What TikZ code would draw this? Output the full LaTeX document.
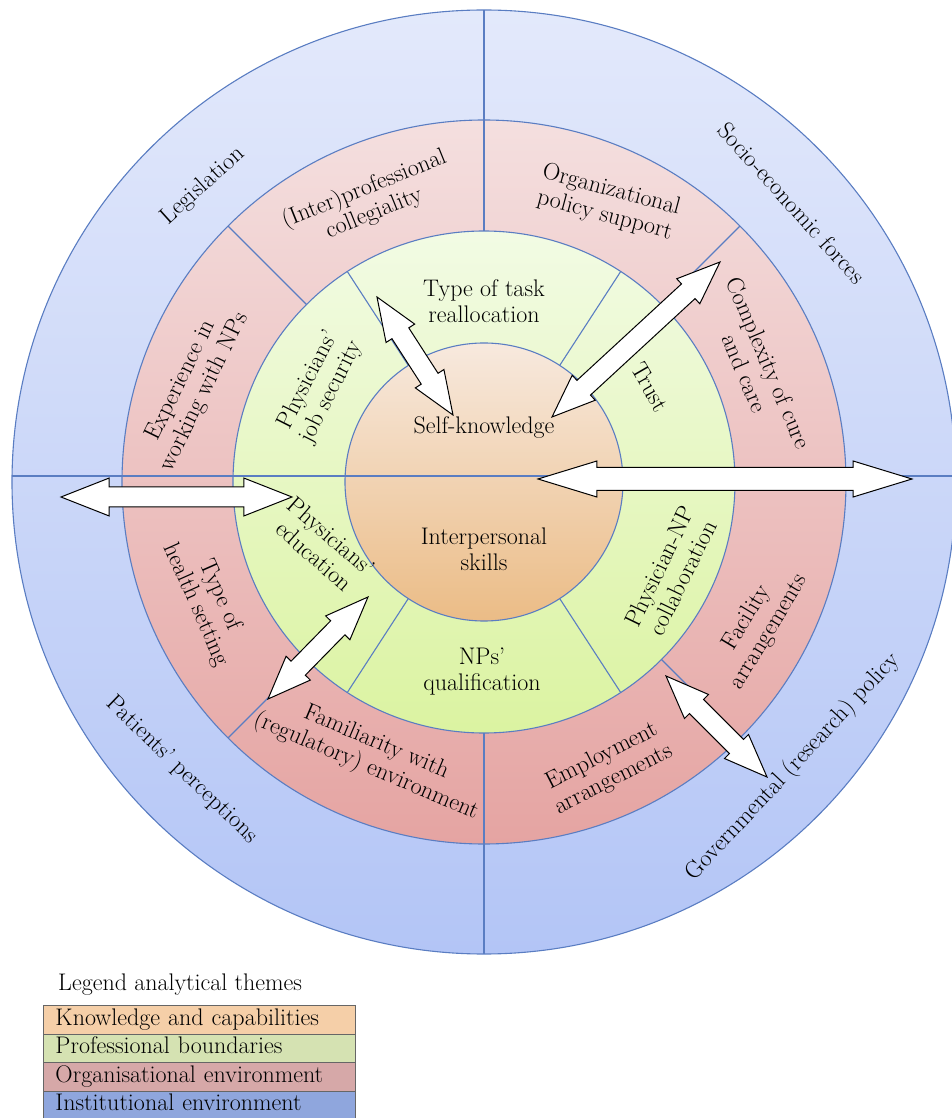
\documentclass[tikz,border=0pt]{standalone}
\usepackage{tikz}
\usetikzlibrary{calc,shapes.arrows}

\definecolor{ringline}{HTML}{5A7DC2}
\definecolor{instTop}{HTML}{E3E9FB}
\definecolor{instBot}{HTML}{B3C5F6}
\definecolor{orgTop}{HTML}{F4DFDF}
\definecolor{orgBot}{HTML}{E5A4A2}
\definecolor{profTop}{HTML}{F2FBE4}
\definecolor{profBot}{HTML}{DBF3A1}
\definecolor{knowTop}{HTML}{F7E9DE}
\definecolor{knowBot}{HTML}{EBBC86}
\definecolor{legKnow}{HTML}{F5CFA8}
\definecolor{legProf}{HTML}{D5E2B2}
\definecolor{legOrg}{HTML}{D6A8A8}
\definecolor{legInst}{HTML}{8FA6DD}

\begin{document}
\begin{tikzpicture}[x=1pt,y=1pt]

	\tikzstyle ring lines=[draw=ringline, line width=1.1pt];
	\tikzstyle theme text=[align=center, inner sep=0pt, font=\fontsize{24}{26}\selectfont];
	\tikzstyle block arrow=[shape=double arrow, draw=black, fill=white, line width=1pt, inner xsep=0pt, inner ysep=9.5pt, double arrow head extend=7pt, double arrow tip angle=43];
	\tikzstyle legend row=[draw=black!60, line width=1pt, anchor=north west, minimum width=312, minimum height=28.5, text width=288, inner xsep=12pt, inner ysep=2.5pt, text height=17pt, text depth=6pt, align=left, font=\fontsize{24}{26}\selectfont];

	\useasboundingbox (-484,-636) rectangle (468,482);

	% the four rings
	\shadedraw[ring lines, top color=instTop, bottom color=instBot] (0,0) circle (472);
	\shadedraw[ring lines, top color=orgTop, bottom color=orgBot] (0,0) circle (362);
	\shadedraw[ring lines, top color=profTop, bottom color=profBot] (0,0) circle (251);
	\shadedraw[ring lines, top color=knowTop, bottom color=knowBot] (0,0) circle (139);

	\draw[ring lines] (0,251) -- (0,472);
	\draw[ring lines] (0,-251) -- (0,-472);
	\draw[ring lines] (-472,6) -- (472,6);

	\draw[ring lines] (45:251) -- (45:362);
	\draw[ring lines] (135:251) -- (135:362);
	\draw[ring lines] (225:251) -- (225:362);
	\draw[ring lines] (315:251) -- (315:362);

	\draw[ring lines] (57:139) -- (57:251);
	\draw[ring lines] (123:139) -- (123:251);
	\draw[ring lines] (237:139) -- (237:251);
	\draw[ring lines] (303:139) -- (303:251);

	% institutional environment
	\node[theme text, rotate=42] (legis) at (-281,296) {Legislation};
	\node[theme text, rotate=-48] (socio) at (308,279) {Socio-economic forces};
	\node[theme text, rotate=-44] (patper) at (-302,-288) {Patients' perceptions};
	\node[theme text, rotate=47] (govpol) at (309,-285) {Governmental (research) policy};

	% organisational environment
	\node[theme text, rotate=22] (colleg) at (-115,281) {(Inter)professional\\collegiality};
	\node[theme text, rotate=-15] (orgpol) at (124,279) {Organizational\\policy support};
	\node[theme text, rotate=-67] (complex) at (273,114) {Complexity of cure\\and care};
	\node[theme text, rotate=64] (exper) at (-291,96) {Experience in\\working with NPs};
	\node[theme text, rotate=-66] (health) at (-276,-118) {Type of\\health setting};
	\node[theme text, rotate=-23] (famil) at (-113,-273) {Familiarity with\\(regulatory) environment};
	\node[theme text, rotate=27] (employ) at (124,-286) {Employment\\arrangements};
	\node[theme text, rotate=59] (facil) at (274,-143) {Facility\\arrangements};

	% professional boundaries
	\node[theme text] (tasks) at (0,181) {Type of task\\reallocation};
	\node[theme text, rotate=-60] (trust) at (166,95) {Trust};
	\node[theme text, rotate=63] (jobsec) at (-164,96) {Physicians'\\job security};
	\node[theme text, rotate=-41] (educ) at (-161,-64) {Physicians'\\education};
	\node[theme text] (npqual) at (-2,-190) {NPs'\\qualification};
	\node[theme text, rotate=64] (collab) at (187,-90) {Physician-NP\\collaboration};

	% knowledge and capabilities
	\node[theme text] (selfk) at (0,54) {Self-knowledge};
	\node[theme text] (interp) at (0,-67) {Interpersonal\\skills};

	% block arrows
	\coordinate (a1s) at (54,3);
	\coordinate (a1e) at (428,3);
	\coordinate (a2s) at (-423,-15);
	\coordinate (a2e) at (-192,-15);
	\coordinate (a3s) at (-107,185);
	\coordinate (a3e) at (-31,67);
	\coordinate (a4s) at (236,220);
	\coordinate (a4e) at (68,65);
	\coordinate (a5s) at (-116,-115);
	\coordinate (a5e) at (-216,-217);
	\coordinate (a6s) at (182,-194);
	\coordinate (a6e) at (283,-295);

	\path let \p1=($(a1e)-(a1s)$), \n1={atan2(\y1,\x1)}, \n2={veclen(\x1,\y1)} in
		node[block arrow, inner ysep=11pt, double arrow head extend=6.5pt, double arrow tip angle=34, rotate=\n1, minimum height=\n2] (arr1) at ($(a1s)!.5!(a1e)$) {};
	\path let \p1=($(a2e)-(a2s)$), \n1={atan2(\y1,\x1)}, \n2={veclen(\x1,\y1)} in
		node[block arrow, double arrow head extend=9pt, rotate=\n1, minimum height=\n2] (arr2) at ($(a2s)!.5!(a2e)$) {};
	\path let \p1=($(a3e)-(a3s)$), \n1={atan2(\y1,\x1)}, \n2={veclen(\x1,\y1)} in
		node[block arrow, rotate=\n1, minimum height=\n2] (arr3) at ($(a3s)!.5!(a3e)$) {};
	\path let \p1=($(a4e)-(a4s)$), \n1={atan2(\y1,\x1)}, \n2={veclen(\x1,\y1)} in
		node[block arrow, rotate=\n1, minimum height=\n2] (arr4) at ($(a4s)!.5!(a4e)$) {};
	\path let \p1=($(a5e)-(a5s)$), \n1={atan2(\y1,\x1)}, \n2={veclen(\x1,\y1)} in
		node[block arrow, rotate=\n1, minimum height=\n2] (arr5) at ($(a5s)!.5!(a5e)$) {};
	\path let \p1=($(a6e)-(a6s)$), \n1={atan2(\y1,\x1)}, \n2={veclen(\x1,\y1)} in
		node[block arrow, rotate=\n1, minimum height=\n2] (arr6) at ($(a6s)!.5!(a6e)$) {};

	% legend
	\node[anchor=west, inner sep=0pt, font=\fontsize{24}{26}\selectfont] (legtitle) at (-426,-503) {Legend analytical themes};
	\node[legend row, fill=legKnow] (lknow) at (-441,-523) {Knowledge and capabilities};
	\node[legend row, fill=legProf] (lprof) at (-441,-551.5) {Professional boundaries};
	\node[legend row, fill=legOrg] (lorg) at (-441,-580) {Organisational environment};
	\node[legend row, fill=legInst] (linst) at (-441,-608.5) {Institutional environment};

\end{tikzpicture}
\end{document}
